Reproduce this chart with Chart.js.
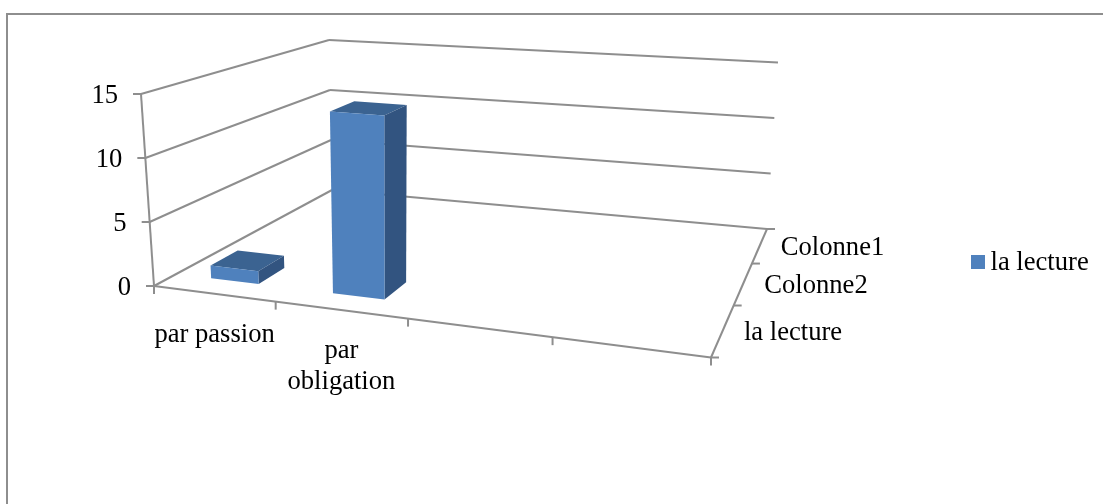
<!DOCTYPE html>
<html lang="fr">
<head>
<meta charset="utf-8">
<title>la lecture</title>
<style>
    html, body { margin: 0; padding: 0; background: #fff; overflow: hidden; }
    canvas { display: block; filter: blur(0.35px); }
</style>
<script src="https://cdn.jsdelivr.net/npm/chart.js@4"></script>
</head>
<body>
<canvas id="chart" width="1103" height="504"></canvas>
<script>
'use strict';

const categories = ['par passion', ['par', 'obligation'], '', ''];
const seriesNames = ['la lecture', 'Colonne2', 'Colonne1'];
const lectureValues = [1, 14, null, null];
const colonne2Values = [null, null, null, null];
const colonne1Values = [null, null, null, null];

const FONT = '26.6px "Liberation Serif"';
const LINE = '#8e8e8e';
const TEXT = '#000000';
const FRONT = '#4f81bd';
const TOP = '#3b6391';
const SIDE = '#325480';
const BAR_RATIO = 0.4;
const TICK = 8;
const TEXT_DY = 2;

// corners of the plot box on screen: front-left, front-right, back-right, back-left
const FLOOR = [[154, 286], [711, 357.5], [767, 229], [332, 190]];
const ROOF = [[141, 94], [738, 138], [778, 62.5], [329, 40]];

// unit square -> quad
function homography(q) {
    let [[x0, y0], [x1, y1], [x2, y2], [x3, y3]] = q;
    let dx1 = x1 - x2, dx2 = x3 - x2, sx = x0 - x1 + x2 - x3;
    let dy1 = y1 - y2, dy2 = y3 - y2, sy = y0 - y1 + y2 - y3;
    let det = dx1 * dy2 - dx2 * dy1;
    let g = (sx * dy2 - dx2 * sy) / det;
    let h = (dx1 * sy - sx * dy1) / det;
    return (u, v) => {
        let w = g * u + h * v + 1;
        return [
            ((x1 - x0 + g * x1) * u + (x3 - x0 + h * x3) * v + x0) / w,
            ((y1 - y0 + g * y1) * u + (y3 - y0 + h * y3) * v + y0) / w
        ];
    };
}

const floorAt = homography(FLOOR);
const roofAt = homography(ROOF);

// u along the categories, v into the depth, t up the value axis (all 0..1)
function project(u, v, t) {
    let a = floorAt(u, v);
    let b = roofAt(u, v);
    return [a[0] + (b[0] - a[0]) * t, a[1] + (b[1] - a[1]) * t];
}

function line(ctx, a, b) {
    ctx.beginPath();
    ctx.moveTo(a[0], a[1]);
    ctx.lineTo(b[0], b[1]);
    ctx.stroke();
}

function face(ctx, color, points) {
    ctx.fillStyle = color;
    ctx.beginPath();
    points.forEach((p, i) => (i ? ctx.lineTo(p[0], p[1]) : ctx.moveTo(p[0], p[1])));
    ctx.closePath();
    ctx.fill();
}

function drawFrame(chart) {
    let ctx = chart.ctx;
    ctx.strokeStyle = LINE;
    ctx.lineWidth = 2;
    line(ctx, [7, chart.height], [7, 14]);
    line(ctx, [6, 14], [chart.width, 14]);
}

function drawBox(chart) {
    let ctx = chart.ctx;
    let yScale = chart.scales.y;
    let xScale = chart.scales.x;
    let area = chart.chartArea;
    ctx.strokeStyle = LINE;
    ctx.lineWidth = 2;

    // gridlines on the left and back walls + value axis ticks
    ctx.fillStyle = TEXT;
    ctx.font = FONT;
    ctx.textAlign = 'right';
    ctx.textBaseline = 'middle';
    yScale.ticks.forEach(tick => {
        let t = (area.bottom - yScale.getPixelForValue(tick.value)) / area.height;
        let front = project(0, 0, t);
        let corner = project(0, 1, t);
        line(ctx, front, corner);
        line(ctx, corner, project(1, 1, t));
        line(ctx, front, [front[0] - TICK, front[1]]);
        ctx.fillText(tick.value, front[0] - 23, front[1] + TEXT_DY);
    });
    line(ctx, project(0, 0, 0), project(0, 0, 1));

    // floor edges
    line(ctx, project(0, 0, 0), project(1, 0, 0));
    line(ctx, project(1, 0, 0), project(1, 1, 0));
    let backRight = project(1, 1, 0);
    line(ctx, backRight, [backRight[0] + TICK, backRight[1]]);

    // category ticks and labels
    let count = categories.length;
    ctx.textAlign = 'center';
    for (let i = 0; i <= count; i++) {
        let p = project(i / count, 0, 0);
        line(ctx, p, [p[0], p[1] + TICK]);
    }
    xScale.getLabels().forEach((label, i) => {
        let mid = (xScale.getPixelForValue(i) - area.left) / area.width;
        let p = project(mid, 0, 0);
        [].concat(label).forEach((text, n) => {
            ctx.fillText(text, p[0] + 1, p[1] + 39 + TEXT_DY + n * 31);
        });
    });

    // depth ticks and labels
    ctx.textAlign = 'left';
    seriesNames.forEach((name, i) => {
        let edge = project(1, i / seriesNames.length, 0);
        line(ctx, edge, [edge[0] + TICK, edge[1]]);
        let mid = project(1, (i + 0.5) / seriesNames.length, 0);
        ctx.fillText(name, mid[0] + 21, mid[1] + 1 + TEXT_DY);
    });
}

function drawBars(chart) {
    let ctx = chart.ctx;
    let area = chart.chartArea;
    let n = chart.data.datasets.length;
    for (let d = n - 1; d >= 0; d--) {
        let values = chart.data.datasets[d].data;
        let v0 = (d + 0.5 - BAR_RATIO / 2) / n;
        let v1 = (d + 0.5 + BAR_RATIO / 2) / n;
        chart.getDatasetMeta(d).data.forEach((bar, i) => {
            if (values[i] === null) {
                return;
            }
            let u0 = (bar.x - bar.width / 2 - area.left) / area.width;
            let u1 = (bar.x + bar.width / 2 - area.left) / area.width;
            let t = (area.bottom - bar.y) / area.height;
            face(ctx, TOP, [project(u0, v0, t), project(u1, v0, t), project(u1, v1, t), project(u0, v1, t)]);
            face(ctx, SIDE, [project(u1, v0, 0), project(u1, v1, 0), project(u1, v1, t), project(u1, v0, t)]);
            face(ctx, FRONT, [project(u0, v0, 0), project(u1, v0, 0), project(u1, v0, t), project(u0, v0, t)]);
        });
    }
}

function drawLegend(chart) {
    let ctx = chart.ctx;
    let dataset = chart.data.datasets[0];
    ctx.fillStyle = dataset.backgroundColor;
    ctx.fillRect(971, 255, 14, 14);
    ctx.fillStyle = TEXT;
    ctx.font = FONT;
    ctx.textAlign = 'left';
    ctx.textBaseline = 'middle';
    ctx.fillText(dataset.label, 990.5, 261 + TEXT_DY);
}

// Chart.js has no 3D bars: it lays out the bars and scales, this plugin projects them
const box3d = {
    id: 'box3d',
    beforeDatasetsDraw(chart) {
        drawFrame(chart);
        drawBox(chart);
        drawBars(chart);
        drawLegend(chart);
        return false;
    }
};

new Chart(document.getElementById('chart'), {
    type: 'bar',
    data: {
        labels: categories,
        datasets: [
            { label: seriesNames[0], data: lectureValues, backgroundColor: FRONT },
            { label: seriesNames[1], data: colonne2Values, backgroundColor: FRONT },
            { label: seriesNames[2], data: colonne1Values, backgroundColor: FRONT }
        ]
    },
    options: {
        responsive: false,
        animation: false,
        layout: { padding: 0 },
        datasets: { bar: { grouped: false, categoryPercentage: 1, barPercentage: BAR_RATIO } },
        plugins: { legend: { display: false }, tooltip: { enabled: false } },
        scales: {
            x: { display: false },
            y: { display: false, min: 0, max: 15, ticks: { stepSize: 5 } }
        }
    },
    plugins: [box3d]
});
</script>
</body>
</html>
